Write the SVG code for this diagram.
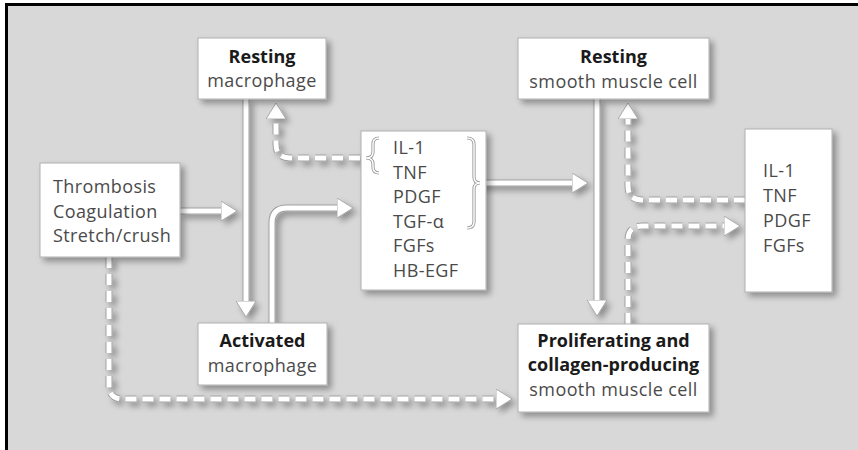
<svg xmlns="http://www.w3.org/2000/svg" width="858" height="450" viewBox="0 0 858 450">
<style>
.box{fill:#fff;stroke:#b0b0b0;stroke-width:1}
text{font-family:"Open Sans","Liberation Sans",sans-serif;font-size:18px;fill:#4a4a4a;letter-spacing:0.4px}
.b{font-weight:bold;fill:#1a1a1a;letter-spacing:0}
.c{text-anchor:middle}
.edge{fill:none;stroke:#a0a0a0;stroke-width:7}
.core{fill:none;stroke:#fff;stroke-width:5}
.dash{stroke-dasharray:11 6}
.br{fill:none;stroke:#9a9a9a;stroke-width:3.2}
.brc{fill:none;stroke:#fff;stroke-width:1.4}
</style>
<defs>
<filter id="sh" x="-20%" y="-20%" width="150%" height="150%">
<feGaussianBlur in="SourceAlpha" stdDeviation="3"/>
<feOffset dx="4" dy="4" result="o"/>
<feComponentTransfer><feFuncA type="linear" slope="0.35"/></feComponentTransfer>
<feMerge><feMergeNode/><feMergeNode in="SourceGraphic"/></feMerge>
</filter>
<marker id="ah" viewBox="0 0 16 20" markerWidth="16" markerHeight="20" markerUnits="userSpaceOnUse" refX="5" refY="10" orient="auto">
<path d="M0,0 L16,10 L0,20 Z" fill="#fff" stroke="#9a9a9a" stroke-width="0.8"/>
</marker>
</defs>
<rect x="0" y="0" width="858" height="450" fill="#fff"/>
<rect x="6" y="4" width="852" height="446" fill="#d8d8d8"/>
<path d="M6.5,450 V4.5 H858" fill="none" stroke="#000" stroke-width="3"/>

<g id="connectors" filter="url(#sh)">
<path class="edge" d="M180,211 H226"/>
<path class="core" d="M180,211 H226" marker-end="url(#ah)"/>
<path class="edge" d="M246,99 V306"/>
<path class="core" d="M246,99 V306" marker-end="url(#ah)"/>
<path class="edge" d="M272,323 V223 Q272,208 287,208 H342"/>
<path class="core" d="M272,323 V223 Q272,208 287,208 H342" marker-end="url(#ah)"/>
<path class="edge" d="M478,183 H577"/>
<path class="core" d="M478,183 H577" marker-end="url(#ah)"/>
<path class="edge" d="M597,99 V305"/>
<path class="core" d="M597,99 V305" marker-end="url(#ah)"/>
<path class="edge dash" d="M360,158 H290 Q276,158 276,144 V114"/>
<path class="core dash" d="M360,158 H290 Q276,158 276,144 V114" marker-end="url(#ah)"/>
<path class="edge dash" d="M745,200 H642 Q628,200 628,186 V114"/>
<path class="core dash" d="M745,200 H642 Q628,200 628,186 V114" marker-end="url(#ah)"/>
<path class="edge dash" d="M628,324 V240 Q628,226 642,226 H729"/>
<path class="core dash" d="M628,324 V240 Q628,226 642,226 H729" marker-end="url(#ah)"/>
<path class="edge dash" d="M109,257 V385 Q109,399 123,399 H501"/>
<path class="core dash" d="M109,257 V385 Q109,399 123,399 H501" marker-end="url(#ah)"/>
</g>

<g id="resting-macrophage">
<rect class="box" x="198" y="38" width="128" height="61" filter="url(#sh)"/>
<text class="b c" x="262" y="63">Resting</text>
<text class="c" x="262" y="87">macrophage</text>
</g>
<g id="triggers">
<rect class="box" x="40" y="163" width="140" height="94" filter="url(#sh)"/>
<text x="53" y="193">Thrombosis</text>
<text x="53" y="217.5">Coagulation</text>
<text x="53" y="242">Stretch/crush</text>
</g>
<g id="cytokines-macrophage">
<rect class="box" x="361" y="131" width="125" height="159" filter="url(#sh)"/>
<text x="393" y="154">IL-1</text>
<text x="393" y="178.5">TNF</text>
<text x="393" y="203">PDGF</text>
<text x="393" y="227.5">TGF-α</text>
<text x="393" y="252">FGFs</text>
<text x="393" y="276.5">HB-EGF</text>
<path class="br" d="M379,138 Q373,138 373,144 V152 Q373,158 366,158 Q373,158 373,164 V167 Q373,173 379,173"/>
<path class="brc" d="M379,138 Q373,138 373,144 V152 Q373,158 366,158 Q373,158 373,164 V167 Q373,173 379,173"/>
<path class="br" d="M467,138 Q474,138 474,144 V177 Q474,183 480,183 Q474,183 474,189 V222 Q474,228 467,228"/>
<path class="brc" d="M467,138 Q474,138 474,144 V177 Q474,183 480,183 Q474,183 474,189 V222 Q474,228 467,228"/>
</g>
<g id="activated-macrophage">
<rect class="box" x="198" y="323" width="129" height="62" filter="url(#sh)"/>
<text class="b c" x="262.5" y="347">Activated</text>
<text class="c" x="262.5" y="372">macrophage</text>
</g>
<g id="resting-smc">
<rect class="box" x="518" y="38" width="191" height="61" filter="url(#sh)"/>
<text class="b c" x="613.5" y="63">Resting</text>
<text class="c" x="613.5" y="88">smooth muscle cell</text>
</g>
<g id="proliferating-smc">
<rect class="box" x="518" y="324" width="191" height="88" filter="url(#sh)"/>
<text class="b c" x="613.5" y="347">Proliferating and</text>
<text class="b c" x="613.5" y="371">collagen-producing</text>
<text class="c" x="613.5" y="396">smooth muscle cell</text>
</g>
<g id="cytokines-smc">
<rect class="box" x="745" y="129" width="87" height="163" filter="url(#sh)"/>
<text x="763" y="177">IL-1</text>
<text x="763" y="202">TNF</text>
<text x="763" y="227">PDGF</text>
<text x="763" y="252">FGFs</text>
</g>
</svg>
